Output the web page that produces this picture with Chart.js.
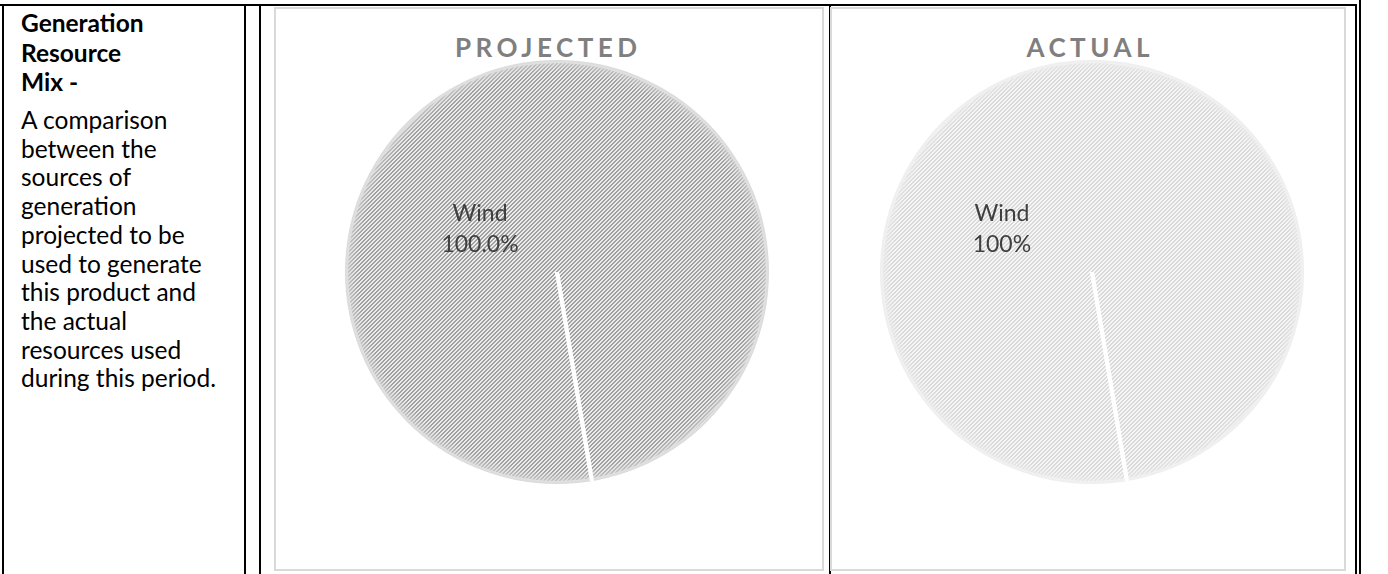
<!DOCTYPE html>
<html>
<head>
<meta charset="utf-8">
<title>Generation Resource Mix</title>
<script src="https://cdn.jsdelivr.net/npm/chart.js@4.4.0/dist/chart.umd.min.js"></script>
<style>
  html, body { margin: 0; padding: 0; background: #fff; }
  body { width: 1388px; height: 574px; position: relative; overflow: hidden; font-family: Lato, "Open Sans", sans-serif; }
  .rule { position: absolute; background: #000; }
  .side { position: absolute; left: 21px; font-size: 24.5px; color: #000; white-space: nowrap; }
  .side.head { top: 8px; line-height: 29.5px; font-weight: 700; }
  .side.text { top: 106px; line-height: 28.7px; }
  .frame { position: absolute; top: 7px; height: 564px; border: 2px solid #d9d9d9; box-sizing: border-box; }
  .title { position: absolute; top: 33.5px; text-align: center; font-weight: 700; font-size: 26px; line-height: 26px; letter-spacing: 4.5px; padding-left: 4.5px; box-sizing: border-box; color: #7f7f7f; }
  .pie { position: absolute; top: 59px; width: 426px; height: 426px; }
</style>
</head>
<body>
  <!-- table rules -->
  <div class="rule" style="left:0; top:4px; width:1357px; height:2px;"></div>
  <div class="rule" style="left:2px; top:4px; width:2px; height:570px;"></div>
  <div class="rule" style="left:244px; top:4px; width:2px; height:570px;"></div>
  <div class="rule" style="left:259px; top:4px; width:2px; height:570px;"></div>
  <div class="rule" style="left:829px; top:4px; width:2px; height:570px;"></div>
  <div class="rule" style="left:1355px; top:4px; width:2px; height:570px;"></div>
  <div class="rule" style="left:1359px; top:0; width:2px; height:574px;"></div>

  <div class="side head">Generation<br>Resource<br>Mix -</div>
  <div class="side text">A comparison<br>between the<br>sources of<br>generation<br>projected to be<br>used to generate<br>this product and<br>the actual<br>resources used<br>during this period.</div>

  <div class="frame" style="left:274px; width:550px;"></div>
  <div class="frame" style="left:830px; width:516px;"></div>
  <div class="title" style="left:271px; width:550px;">PROJECTED</div>
  <div class="title" style="left:830px; width:516px;">ACTUAL</div>

  <div class="pie" style="left:344px;"><canvas id="projected-chart"></canvas></div>
  <div class="pie" style="left:879px;"><canvas id="actual-chart"></canvas></div>

<script>
// chart data
const categories = ['Wind'];
const projectedValues = [100];
const actualValues = [100];

// hatch fill like the Excel pattern fill
function hatch(dark, light) {
    const c = document.createElement('canvas');
    c.width = 4;
    c.height = 4;
    const g = c.getContext('2d');
    g.fillStyle = light;
    g.fillRect(0, 0, 4, 4);
    g.fillStyle = dark;
    for (let y = 0; y < 4; y++) {
        for (let x = 0; x < 4; x++) {
            if ((x + y) % 4 < 2) g.fillRect(x, y, 1, 1);
        }
    }
    return g.createPattern(c, 'repeat');
}

// soft edge round the pie, then the name + percent label
const sliceLabels = {
    id: 'sliceLabels',
    afterDatasetsDraw(chart, args, opts) {
        const ctx = chart.ctx;
        const ds = chart.data.datasets[0];
        const total = ds.data.reduce((a, b) => a + b, 0);
        chart.getDatasetMeta(0).data.forEach((arc, i) => {
            const p = arc.getProps(['x', 'y', 'outerRadius', 'startAngle'], true);
            const r = p.outerRadius;

            // edge shading
            ctx.save();
            ctx.beginPath();
            ctx.arc(p.x, p.y, r + 1, 0, Math.PI * 2);
            ctx.clip();
            const grad = ctx.createRadialGradient(p.x, p.y, r - 12, p.x, p.y, r + 1);
            grad.addColorStop(0, opts.edge + '00');
            grad.addColorStop(1, opts.edge + 'e0');
            ctx.fillStyle = grad;
            ctx.fillRect(p.x - r - 2, p.y - r - 2, 2 * r + 4, 2 * r + 4);
            // keep the slice border line on top
            ctx.strokeStyle = '#ffffff';
            ctx.lineWidth = 4;
            ctx.beginPath();
            ctx.moveTo(p.x, p.y);
            ctx.lineTo(p.x + Math.cos(p.startAngle) * (r + 2), p.y + Math.sin(p.startAngle) * (r + 2));
            ctx.stroke();
            ctx.restore();

            const a = opts.angle * Math.PI / 180;
            const px = p.x + Math.cos(a) * r * opts.distance;
            const py = p.y + Math.sin(a) * r * opts.distance;
            const pct = (ds.data[i] / total * 100).toFixed(opts.decimals) + '%';
            ctx.save();
            ctx.font = '23px Lato, "Open Sans", sans-serif';
            ctx.fillStyle = '#404040';
            ctx.textAlign = 'center';
            ctx.textBaseline = 'alphabetic';
            ctx.fillText(chart.data.labels[i], px, py - 7);
            ctx.fillText(pct, px, py + 24);
            ctx.restore();
        });
    }
};

function makePie(id, values, fill, labelOpts) {
    const ctx = document.getElementById(id).getContext('2d');
    return new Chart(ctx, {
        type: 'pie',
        data: {
            labels: categories,
            datasets: [{
                data: values,
                backgroundColor: fill,
                borderColor: '#ffffff',
                borderWidth: 4
            }]
        },
        options: {
            responsive: true,
            maintainAspectRatio: false,
            animation: false,
            rotation: 170.5,
            layout: { padding: 0 },
            plugins: {
                legend: { display: false },
                tooltip: { enabled: false },
                sliceLabels: labelOpts
            }
        },
        plugins: [sliceLabels]
    });
}

makePie('projected-chart', projectedValues, hatch('#a0a0a0', '#ececec'),
    { angle: 209.7, distance: 0.42, decimals: 1, edge: '#d4d4d4' });
makePie('actual-chart', actualValues, hatch('#d9d9d9', '#f6f6f6'),
    { angle: 206, distance: 0.475, decimals: 0, edge: '#ebebeb' });
</script>
</body>
</html>
